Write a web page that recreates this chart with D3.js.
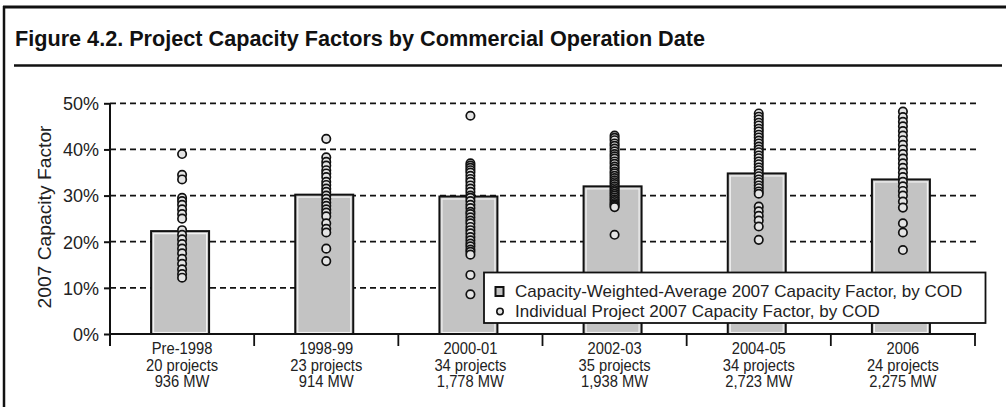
<!DOCTYPE html>
<html>
<head>
<meta charset="utf-8">
<script src="https://cdn.jsdelivr.net/npm/d3@7"></script>
<style>
  body { margin: 0; background: #fff; }
  svg { display: block; font-family: "Liberation Sans", Arial, sans-serif; }
</style>
</head>
<body>
<div id="chart"></div>
<script>
// categories and labels
var categories = ['Pre-1998', '1998-99', '2000-01', '2002-03', '2004-05', '2006'];
var projectCounts = ['20 projects', '23 projects', '34 projects', '35 projects', '34 projects', '24 projects'];
var capacityMW = ['936 MW', '914 MW', '1,778 MW', '1,938 MW', '2,723 MW', '2,275 MW'];

// capacity-weighted average (%)
var weightedAvg = [22.3, 30.2, 29.8, 32.0, 34.8, 33.5];

// individual project capacity factors (%)
var pre1998 = [39.0, 34.5, 33.5, 29.5, 28.8, 28.0, 27.0, 26.0, 25.0, 22.5, 21.5, 20.5, 19.5, 18.5, 17.5, 16.3, 15.2, 14.0, 13.0, 12.2];
var cod1998_99 = [42.3, 38.3, 37.3, 36.5, 35.5, 34.8, 34.0, 33.0, 32.3, 31.5, 30.8, 30.0, 29.3, 28.5, 27.8, 27.0, 26.3, 25.5, 24.0, 22.8, 22.0, 18.5, 15.8];
var cod2000_01 = [47.3, 37.0, 36.5, 36.0, 35.5, 35.0, 34.3, 33.6, 33.0, 32.2, 31.5, 30.8, 30.0, 29.5, 28.8, 28.0, 27.3, 26.5, 26.0, 25.3, 24.6, 24.0, 23.2, 22.5, 21.8, 21.0, 20.3, 19.6, 19.0, 18.3, 17.8, 17.2, 12.8, 8.6];
var cod2002_03 = [43.0, 42.5, 42.0, 41.3, 40.8, 40.2, 39.6, 39.0, 38.5, 38.0, 37.4, 36.9, 36.3, 35.8, 35.2, 34.8, 34.3, 33.8, 33.3, 32.9, 32.5, 32.0, 31.6, 31.2, 30.8, 30.4, 30.0, 29.6, 29.2, 28.8, 28.4, 28.1, 27.8, 27.5, 21.5];
var cod2004_05 = [47.8, 47.1, 46.5, 45.8, 45.2, 44.5, 43.9, 43.2, 42.6, 41.9, 41.3, 40.6, 40.0, 39.4, 38.7, 38.1, 37.4, 36.8, 36.1, 35.5, 34.8, 34.2, 33.5, 32.9, 32.2, 31.6, 30.9, 30.4, 27.6, 26.6, 25.6, 24.6, 23.3, 20.4];
var cod2006 = [48.2, 47.0, 46.0, 45.0, 44.0, 43.0, 42.0, 41.0, 40.0, 39.0, 38.0, 37.0, 36.0, 35.0, 34.0, 33.0, 32.0, 31.0, 30.0, 28.7, 27.4, 24.0, 22.0, 18.2];
var projectFactors = [pre1998, cod1998_99, cod2000_01, cod2002_03, cod2004_05, cod2006];

var yTicks = [0, 10, 20, 30, 40, 50];
var legendLabels = ['Capacity-Weighted-Average 2007 Capacity Factor, by COD', 'Individual Project 2007 Capacity Factor, by COD'];
var titleText = 'Figure 4.2. Project Capacity Factors by Commercial Operation Date';
var yTitle = '2007 Capacity Factor';

var w = 1006;
var h = 407;
var svg = d3.select('#chart').append('svg').attr('width', w).attr('height', h);

// frame
svg.append('line').attr('x1', 3).attr('x2', w).attr('y1', 7).attr('y2', 7).attr('stroke', '#111').attr('stroke-width', 3);
svg.append('line').attr('x1', 4).attr('x2', 4).attr('y1', 6).attr('y2', h).attr('stroke', '#111').attr('stroke-width', 2.5);
svg.append('line').attr('x1', 14).attr('x2', 1002).attr('y1', 65.5).attr('y2', 65.5).attr('stroke', '#111').attr('stroke-width', 2.5);

svg.append('text').attr('x', 15).attr('y', 46)
	.attr('font-size', '22px').attr('font-weight', 'bold').attr('fill', '#111')
	.attr('textLength', 690).attr('lengthAdjust', 'spacingAndGlyphs')
	.text(titleText);

var xScale = d3.scaleBand().domain(categories).range([110, 975]);
var yScale = d3.scaleLinear().domain([0, 50]).range([334, 103.3]);
var bw = xScale.bandwidth();

// gridlines
svg.append('g').selectAll('line').data(yTicks.filter(function(d) { return d > 0; })).enter().append('line')
	.attr('x1', 110).attr('x2', 977)
	.attr('y1', function(d) { return yScale(d); })
	.attr('y2', function(d) { return yScale(d); })
	.attr('stroke', '#111').attr('stroke-width', 1.7).attr('stroke-dasharray', '6,4');

// bars
var bars = svg.append('g').selectAll('g').data(weightedAvg).enter().append('g');
bars.append('rect')
	.attr('x', function(d, i) { return xScale(categories[i]) + bw / 2 - 31; })
	.attr('y', function(d) { return yScale(d); })
	.attr('width', 58)
	.attr('height', function(d) { return yScale(0) - yScale(d); })
	.attr('fill', '#c3c3c3').attr('stroke', '#111').attr('stroke-width', 2);
bars.append('rect')
	.attr('x', function(d, i) { return xScale(categories[i]) + bw / 2 - 28.5; })
	.attr('y', function(d) { return yScale(d) + 2.5; })
	.attr('width', 53)
	.attr('height', function(d) { return yScale(0) - yScale(d) - 4; })
	.attr('fill', 'none').attr('stroke', '#f2f2f2').attr('stroke-width', 1.2);

// dots
projectFactors.forEach(function(vals, i) {
	svg.append('g').selectAll('circle').data(vals).enter().append('circle')
		.attr('cx', xScale(categories[i]) + bw / 2)
		.attr('cy', function(d) { return yScale(d); })
		.attr('r', 4.2)
		.attr('fill', '#e4e4e4').attr('stroke', '#111').attr('stroke-width', 1.7);
});

// y axis
var yAxis = d3.axisLeft(yScale).tickValues(yTicks).tickFormat(function(d) { return d + '%'; }).tickSize(6).tickSizeOuter(0).tickPadding(5);
var gy = svg.append('g').attr('transform', 'translate(110,0)').call(yAxis);
gy.select('.domain').remove();
gy.selectAll('line').attr('stroke', '#111').attr('stroke-width', 2);
gy.selectAll('text').attr('font-size', '18px').attr('font-family', '"Liberation Sans", Arial, sans-serif').attr('fill', '#222').attr('dy', '0.35em');
svg.append('line').attr('x1', 110).attr('x2', 110).attr('y1', yScale(50)).attr('y2', 346).attr('stroke', '#111').attr('stroke-width', 2);

svg.append('text').attr('transform', 'translate(51,' + 217 + ') rotate(-90)')
	.attr('text-anchor', 'middle').attr('font-size', '18px').attr('fill', '#222')
	.attr('textLength', 183).attr('lengthAdjust', 'spacingAndGlyphs')
	.text(yTitle);

// x axis
svg.append('line').attr('x1', 110).attr('x2', 976).attr('y1', yScale(0)).attr('y2', yScale(0)).attr('stroke', '#111').attr('stroke-width', 2);
var bounds = categories.map(function(c) { return xScale(c); }).concat([xScale.range()[1]]);
svg.append('g').selectAll('line').data(bounds).enter().append('line')
	.attr('x1', function(d) { return d; }).attr('x2', function(d) { return d; })
	.attr('y1', yScale(0)).attr('y2', 346)
	.attr('stroke', '#111').attr('stroke-width', 1.8);

// category labels: slightly condensed, three rows
var xl = svg.append('g');
[categories, projectCounts, capacityMW].forEach(function(rows, r) {
	xl.selectAll('text.row' + r).data(categories).enter().append('text')
		.attr('class', 'row' + r)
		.attr('text-anchor', 'middle').attr('font-size', '16px').attr('fill', '#222')
		.attr('x', function(d) { return xScale(d) + bw / 2; })
		.attr('y', 354 + r * 16.5)
		.text(function(d, i) { return rows[i]; })
		.each(function() {
			var len = this.getComputedTextLength();
			d3.select(this).attr('textLength', len * 0.92).attr('lengthAdjust', 'spacingAndGlyphs');
		});
});

// legend
var lg = svg.append('g');
lg.append('rect').attr('x', 484).attr('y', 272.5).attr('width', 501.5).attr('height', 50.5)
	.attr('fill', '#fff').attr('stroke', '#111').attr('stroke-width', 1.8);
lg.append('rect').attr('x', 495.5).attr('y', 287).attr('width', 8).attr('height', 9)
	.attr('fill', '#c3c3c3').attr('stroke', '#111').attr('stroke-width', 2);
lg.append('circle').attr('cx', 500).attr('cy', 311.5).attr('r', 3.2)
	.attr('fill', '#e4e4e4').attr('stroke', '#111').attr('stroke-width', 1.6);
lg.selectAll('text').data(legendLabels).enter().append('text')
	.attr('x', 515).attr('y', function(d, i) { return 297 + i * 20; })
	.attr('font-size', '17px').attr('fill', '#222')
	.text(function(d) { return d; });
</script>
</body>
</html>
